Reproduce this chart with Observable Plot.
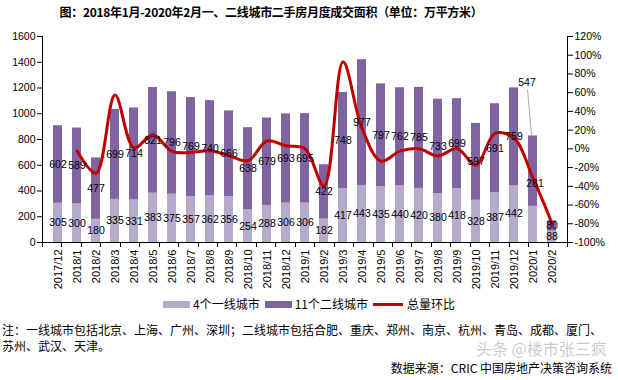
<!DOCTYPE html>
<html><head><meta charset="utf-8">
<script src="https://cdn.jsdelivr.net/npm/d3@7"></script>
<script src="https://cdn.jsdelivr.net/npm/@observablehq/plot@0.6"></script>
<style>
body{margin:0;background:#fff;}
#wrap{position:relative;width:618px;height:380px;overflow:hidden;font-family:"Noto Sans CJK SC","Noto Sans",sans-serif;color:#000;}
#title{position:absolute;top:3px;left:0;width:542px;text-align:center;font-weight:bold;font-size:12px;letter-spacing:-0.3px;line-height:18px;white-space:nowrap;}
#chart{position:absolute;top:28px;left:0;}
#legend{position:absolute;top:296px;left:163px;display:flex;align-items:center;font-size:12px;line-height:16px;white-space:nowrap;}
#legend .sw{display:inline-block;width:27px;height:7px;margin-right:3px;}
#legend .ln{display:inline-block;width:30px;height:3px;margin-right:4px;}
#legend .it{display:flex;align-items:center;margin-right:5px;}
#note{position:absolute;top:322px;left:2px;width:614px;font-size:12px;line-height:16px;}
#source{position:absolute;top:360px;right:6px;font-size:12px;line-height:16px;white-space:nowrap;}
#wm{position:absolute;top:339px;left:476px;font-size:16px;line-height:18px;color:rgba(140,140,140,0.45);white-space:nowrap;}
</style></head>
<body><div id="wrap">
<div id="title">图：2018年1月-2020年2月一、二线城市二手房月度成交面积（单位：万平方米）</div>
<div id="chart"></div>
<div id="legend"></div>
<div id="note">注：一线城市包括北京、上海、广州、深圳；二线城市包括合肥、重庆、郑州、南京、杭州、青岛、成都、厦门、<br>苏州、武汉、天津。</div>
<div id="wm">头条 @楼市张三疯</div>
<div id="source">数据来源：CRIC 中国房地产决策咨询系统</div>
</div>
<script>
const months = ["2017/12","2018/1","2018/2","2018/3","2018/4","2018/5","2018/6","2018/7","2018/8","2018/9","2018/10","2018/11","2018/12","2019/1","2019/2","2019/3","2019/4","2019/5","2019/6","2019/7","2019/8","2019/9","2019/10","2019/11","2019/12","2020/1","2020/2"];
const tier1 = [305,300,180,335,331,383,375,357,362,356,254,288,306,306,182,417,443,435,440,420,380,418,328,387,442,281,88];
const tier2 = [602,589,477,699,714,821,796,769,740,666,638,679,693,695,422,748,977,797,762,785,733,699,597,691,759,547,80];
const mom = [null,-2.0,-26.1,57.4,1.1,15.2,-2.7,-3.8,-2.1,-7.3,-12.7,8.4,3.3,0.2,-39.7,92.9,21.9,-13.2,-2.4,0.2,-7.6,0.4,-17.2,16.5,11.4,-31.1,-79.7];
const yTicks = [0,200,400,600,800,1000,1200,1400,1600];
const pctTicks = [-100,-80,-60,-40,-20,0,20,40,60,80,100,120];
const seriesNames = ["4个一线城市","11个二线城市","总量环比"];

const LIGHT = "#B5ABCA", DARK = "#8064A2", RED = "#C00000";
const yMax = 1600, pMin = -100, pMax = 120;
const toY = p => (p - pMin) / (pMax - pMin) * yMax;
const fromY = v => v / yMax * (pMax - pMin) + pMin;

const long = months.flatMap((m, i) => [
  {month: m, group: seriesNames[0], value: tier1[i]},
  {month: m, group: seriesNames[1], value: tier2[i]}
]);
const lineData = months.map((m, i) => ({month: m, mom: mom[i]}));
const moved = "2020/1";

const W = 618, H = 270, ML = 42, MR = 51, MT = 8, MB = 56;
const pad = 0.53;
const labelOf = test => d => test(d) ? String(d.value) : null;

const svg = Plot.plot({
  width: W, height: H, marginLeft: ML, marginRight: MR, marginTop: MT, marginBottom: MB,
  style: {fontFamily: "Liberation Sans, Arial, sans-serif", fontSize: "10.5px", background: "#fff", color: "#000", overflow: "visible"},
  x: {domain: months, paddingInner: pad, paddingOuter: pad / 2, label: null},
  y: {domain: [0, yMax], label: null},
  color: {domain: seriesNames.slice(0, 2), range: [LIGHT, DARK]},
  marks: [
    Plot.barY(long, {x: "month", y: "value", fill: "group"}),
    Plot.line(lineData, {x: "month", y: d => d.mom == null ? NaN : toY(d.mom), stroke: RED, strokeWidth: 3, curve: "catmull-rom"}),
    Plot.text(long, Plot.stackY({x: "month", y: "value", z: "group", text: labelOf(d => d.month !== moved), fill: "#000", fontSize: 10.5})),
    Plot.text(long, Plot.stackY({x: "month", y: "value", z: "group", text: labelOf(d => d.month === moved && d.group === seriesNames[0]), fill: "#000", fontSize: 10.5, dx: 2, dy: -41})),
    Plot.text(long, Plot.stackY({x: "month", y: "value", z: "group", text: labelOf(d => d.month === moved && d.group === seriesNames[1]), fill: "#000", fontSize: 10.5, dx: -6, dy: -88})),
    Plot.axisY({anchor: "left", ticks: yTicks, tickSize: 5, tickPadding: 2, tickFormat: d => String(d), fontSize: 10.5}),
    Plot.axisY({anchor: "right", ticks: pctTicks.map(toY), tickSize: 5, tickPadding: 2, tickFormat: v => Math.round(fromY(v)) + "%", fontSize: 10.5}),
    Plot.axisX({tickSize: 0, tickRotate: -90, tickPadding: 7, fontSize: 11}),
    Plot.ruleY([0], {stroke: "#000"})
  ]
});

// axis lines, category separators, and leader line
const xs = svg.scale("x"), ys = svg.scale("y");
const g = d3.select(svg).append("g").attr("stroke", "#000").attr("stroke-width", 1).attr("fill", "none");
const x0 = ML, x1 = W - MR, yTop = MT, yBot = H - MB;
g.append("line").attr("x1", x0 + 0.5).attr("x2", x0 + 0.5).attr("y1", yTop).attr("y2", yBot);
g.append("line").attr("x1", x1 + 0.5).attr("x2", x1 + 0.5).attr("y1", yTop).attr("y2", yBot);
const step = (x1 - x0) / months.length;
for (let i = 0; i <= months.length; i++) {
  const xx = Math.round(x0 + i * step) + 0.5;
  g.append("line").attr("x1", xx).attr("x2", xx).attr("y1", yBot).attr("y2", yBot + 5);
}
const mi = months.indexOf(moved);
const cx = xs.apply(moved) + xs.bandwidth / 2;
const topY = ys.apply(tier1[mi] + tier2[mi]);
const labY = ys.apply(tier1[mi] + tier2[mi] / 2) - 88;
g.append("line").attr("x1", cx - 1).attr("y1", topY).attr("x2", cx - 5).attr("y2", labY + 7).attr("stroke", "#aaa");

document.getElementById("chart").appendChild(svg);

// legend
const lg = document.getElementById("legend");
lg.innerHTML =
  `<span class="it"><span class="sw" style="background:${LIGHT}"></span>${seriesNames[0]}</span>` +
  `<span class="it"><span class="sw" style="background:${DARK}"></span>${seriesNames[1]}</span>` +
  `<span class="it"><span class="ln" style="background:${RED}"></span>${seriesNames[2]}</span>`;
</script>
</body></html>
